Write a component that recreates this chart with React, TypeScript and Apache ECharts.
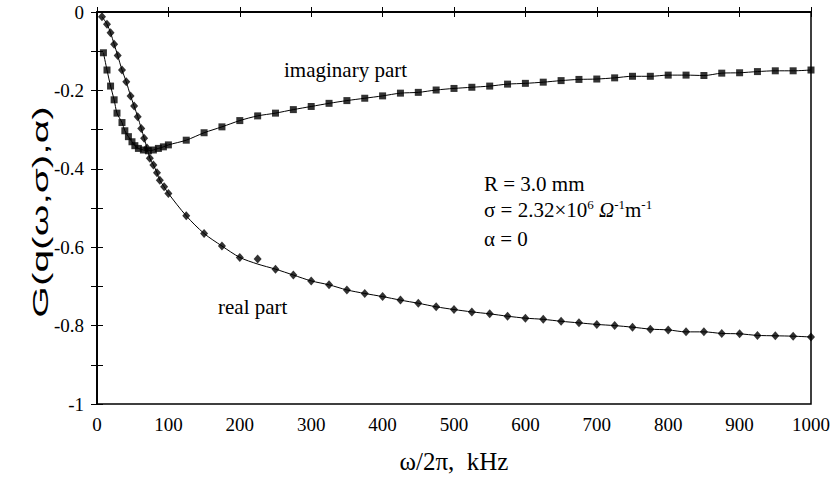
import React, { useEffect, useRef } from "react";
import * as echarts from "echarts";

// ---- data ----
// real part (diamonds)
const realFreq: number[] = [7, 14, 19, 24, 29, 35, 41, 47, 52, 57, 62, 66, 70, 74, 79, 84, 88, 94, 100,
  125, 150, 175, 200, 225, 250, 275, 300, 325, 350, 375, 400, 425, 450, 475,
  500, 525, 550, 575, 600, 625, 650, 675, 700, 725, 750, 775, 800, 825, 850, 875, 900, 925, 950, 975, 1000];
const realVals: number[] = [-0.012, -0.031, -0.053, -0.082, -0.111, -0.148, -0.178, -0.214, -0.240, -0.267, -0.297, -0.322, -0.347, -0.373, -0.390, -0.410, -0.429, -0.446, -0.463,
  -0.520, -0.565, -0.597, -0.626, -0.630, -0.656, -0.671, -0.686, -0.696, -0.709, -0.718, -0.726, -0.735, -0.743, -0.752,
  -0.759, -0.765, -0.770, -0.776, -0.781, -0.784, -0.789, -0.793, -0.797, -0.800, -0.804, -0.809, -0.811, -0.816, -0.816, -0.820, -0.821, -0.825, -0.826, -0.827, -0.829];
// theoretical curve for the real part (same, but passing below the 225 kHz point)
const realCurveVals: number[] = [-0.012, -0.031, -0.053, -0.082, -0.111, -0.148, -0.178, -0.214, -0.240, -0.267, -0.297, -0.322, -0.347, -0.373, -0.390, -0.410, -0.429, -0.446, -0.463,
  -0.520, -0.565, -0.597, -0.626, -0.643, -0.656, -0.671, -0.686, -0.696, -0.709, -0.718, -0.726, -0.735, -0.743, -0.752,
  -0.759, -0.765, -0.770, -0.776, -0.781, -0.784, -0.789, -0.793, -0.797, -0.800, -0.804, -0.809, -0.811, -0.816, -0.816, -0.820, -0.821, -0.825, -0.826, -0.827, -0.829];

// imaginary part (squares)
const imagFreq: number[] = [9, 14, 19, 24, 28, 35, 39, 44, 49, 53, 58, 65, 72, 79, 86, 93, 100,
  125, 150, 175, 200, 225, 250, 275, 300, 325, 350, 375, 400, 425, 450, 475,
  500, 525, 550, 575, 600, 625, 650, 675, 700, 725, 750, 775, 800, 825, 850, 875, 900, 925, 950, 975, 1000];
const imagVals: number[] = [-0.104, -0.148, -0.189, -0.224, -0.258, -0.282, -0.303, -0.318, -0.331, -0.341, -0.348, -0.352, -0.354, -0.352, -0.348, -0.344, -0.339,
  -0.327, -0.308, -0.293, -0.277, -0.265, -0.258, -0.249, -0.241, -0.233, -0.226, -0.220, -0.214, -0.207, -0.205, -0.199,
  -0.195, -0.192, -0.189, -0.184, -0.182, -0.179, -0.175, -0.172, -0.171, -0.168, -0.164, -0.164, -0.161, -0.161, -0.162, -0.156, -0.155, -0.152, -0.150, -0.150, -0.148];

const xTicks: number[] = [0, 100, 200, 300, 400, 500, 600, 700, 800, 900, 1000];
const yTickLabels: Record<string, string> = { "0": "0", "-0.2": "-0.2", "-0.4": "-0.4", "-0.6": "-0.6", "-0.8": "-0.8", "-1": "-1" };

const SERIF = "'Liberation Serif', 'Times New Roman', serif";
const SANS = "'Liberation Sans', Arial, sans-serif";

function pairs(xs: number[], ys: number[]) {
  return xs.map((x, i) => [x, ys[i]]);
}

export default function App() {
  const ref = useRef<HTMLDivElement>(null);
  useEffect(() => {
    document.body.style.margin = "0";
    if (!ref.current) return;
    const chart = echarts.init(ref.current, undefined, { renderer: "svg" });
    const yLabel = (v: number) => {
      const k = String(Math.round(v * 10) / 10);
      return yTickLabels[k] ?? "";
    };
    const baseY = {
      type: "value" as const,
      min: -1,
      max: 0,
      interval: 0.1,
      splitLine: { show: false },
      axisLine: { show: true, lineStyle: { color: "#000", width: 1.5 } },
    };
    const baseX = {
      type: "value" as const,
      min: xTicks[0],
      max: xTicks[xTicks.length - 1],
      interval: 100,
      splitLine: { show: false },
      axisLine: { show: true, lineStyle: { color: "#000", width: 1.5 } },
    };
    chart.setOption({
      animation: false,
      backgroundColor: "#fff",
      grid: { left: 97, right: 26, top: 12, bottom: 76, show: true, borderColor: "#000", borderWidth: 1.5, backgroundColor: "transparent" },
      xAxis: [
        {
          ...baseX,
          name: "ω/2π,  kHz",
          nameLocation: "middle",
          nameGap: 45,
          nameTextStyle: { fontFamily: SERIF, fontSize: 25, color: "#000" },
          axisTick: { show: true, inside: false, length: 5, lineStyle: { color: "#000" } },
          axisLabel: { fontFamily: SERIF, fontSize: 19, color: "#000", margin: 11, formatter: (v: number) => String(v) },
        },
        {
          ...baseX,
          position: "bottom",
          axisTick: { show: true, inside: true, length: 5, lineStyle: { color: "#000" } },
          axisLabel: { show: false },
        },
      ],
      yAxis: [
        {
          ...baseY,
          axisTick: { show: true, inside: false, length: 6, lineStyle: { color: "#000" } },
          axisLabel: { fontFamily: SERIF, fontSize: 19, color: "#000", margin: 13, formatter: yLabel },
        },
        {
          ...baseY,
          position: "left",
          axisTick: { show: true, inside: true, length: 6, lineStyle: { color: "#000" } },
          axisLabel: { show: false },
        },
      ],
      series: [
        {
          name: "real curve",
          type: "line",
          smooth: 0.3,
          showSymbol: false,
          data: pairs(realFreq, realCurveVals),
          lineStyle: { color: "#000", width: 1 },
          z: 2,
        },
        {
          name: "imaginary curve",
          type: "line",
          smooth: 0.3,
          showSymbol: false,
          data: pairs(imagFreq, imagVals),
          lineStyle: { color: "#000", width: 1 },
          z: 2,
        },
        {
          name: "real part",
          type: "scatter",
          symbol: "diamond",
          symbolSize: [8, 9],
          data: pairs(realFreq, realVals),
          itemStyle: { color: "#000" },
          z: 3,
        },
        {
          name: "imaginary part",
          type: "scatter",
          symbol: "rect",
          symbolSize: 7,
          data: pairs(imagFreq, imagVals),
          itemStyle: { color: "#000" },
          z: 3,
        },
      ],
      graphic: [
        {
          type: "text",
          x: 40,
          y: 212,
          rotation: Math.PI / 2,
          scaleX: 1.85,
          scaleY: 1,
          style: { text: "G(q(ω,σ),α)", font: `22px ${SANS}`, fill: "#000", align: "center", verticalAlign: "middle" },
        },
        { type: "text", left: 284, top: 59, style: { text: "imaginary part", font: `21px ${SERIF}`, fill: "#000" } },
        { type: "text", left: 218, top: 296, style: { text: "real part", font: `21px ${SERIF}`, fill: "#000" } },
        { type: "text", left: 484, top: 173, style: { text: "R = 3.0 mm", font: `21px ${SERIF}`, fill: "#000" } },
        {
          type: "text",
          left: 484,
          top: 198,
          style: {
            text: "{a|σ = 2.32×10}{s|6}{a| }{i|Ω}{s|-1}{a|m}{s|-1}",
            rich: {
              a: { fontFamily: SERIF, fontSize: 21, lineHeight: 24, color: "#000" },
              i: { fontFamily: SERIF, fontSize: 21, fontStyle: "italic", lineHeight: 24, color: "#000" },
              s: { fontFamily: SERIF, fontSize: 13, lineHeight: 14, verticalAlign: "top", color: "#000" },
            },
          },
        },
        { type: "text", left: 484, top: 228, style: { text: "α = 0", font: `21px ${SERIF}`, fill: "#000" } },
      ],
    });
    return () => chart.dispose();
  }, []);
  return <div ref={ref} style={{ position: "absolute", left: 0, top: 0, width: 837, height: 480 }} />;
}
